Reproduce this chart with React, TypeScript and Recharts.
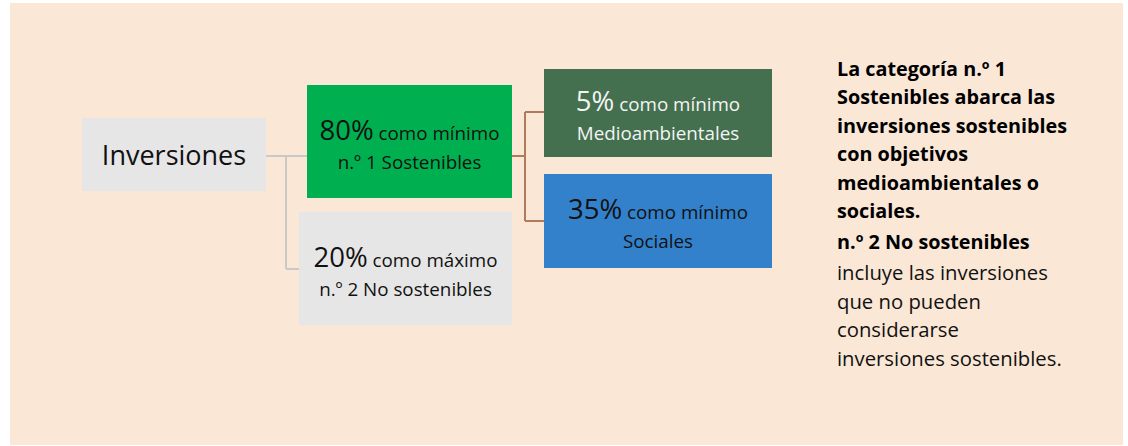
import React from 'react';
import { ComposedChart, XAxis, YAxis, ReferenceArea, ReferenceLine } from 'recharts';

// ---- data ----
const categories = ['Inversiones', 'n.º 1 Sostenibles', 'n.º 2 No sostenibles', 'Medioambientales', 'Sociales'];
const shares: (number | null)[] = [null, 80, 20, 5, 35];
const qualifiers = ['', 'como mínimo', 'como máximo', 'como mínimo', 'como mínimo'];
const noteBold = [
  'La categoría n.º 1',
  'Sostenibles abarca las',
  'inversiones sostenibles',
  'con objetivos',
  'medioambientales o',
  'sociales.',
  'n.º 2 No sostenibles',
];
const noteRegular = ['incluye las inversiones', 'que no pueden', 'considerarse', 'inversiones sostenibles.'];

// ---- layout (chart units == pixels) ----
const W = 1128;
const H = 446;
const boxes = [
  { x1: 82, x2: 266, y1: 118, y2: 191 },
  { x1: 307, x2: 512, y1: 85, y2: 198 },
  { x1: 299, x2: 512, y1: 212, y2: 325 },
  { x1: 544, x2: 772, y1: 69, y2: 157 },
  { x1: 544, x2: 772, y1: 174, y2: 268 },
];
const fills = ['#E7E6E6', '#00B050', '#E7E6E6', '#44704F', '#3381CB'];
const textColors = ['#111', '#111', '#111', '#F4F4F4', '#111'];
const grayLinks = [
  [[266, 156], [307, 156]],
  [[286, 156], [286, 269]],
  [[286, 269], [299, 269]],
];
const brownLinks = [
  [[512, 156], [525, 156]],
  [[525, 112], [525, 221]],
  [[525, 112], [544, 112]],
  [[525, 221], [544, 221]],
];
const FONT = '"Open Sans", Lato, sans-serif';

const makeShape = (i: number) => (props: any) => {
  const { x, y, width, height } = props;
  const cx = x + width / 2;
  const cy = y + height / 2;
  const color = textColors[i];
  if (shares[i] == null) {
    return (
      <g>
        <rect x={x} y={y} width={width} height={height} fill={fills[i]} />
        <text x={cx} y={cy + 10.5} textAnchor="middle" fontFamily={FONT} fontSize={27} fill={color}>
          {categories[i]}
        </text>
      </g>
    );
  }
  return (
    <g>
      <rect x={x} y={y} width={width} height={height} fill={fills[i]} />
      <text x={cx} y={cy - 2} textAnchor="middle" fontFamily={FONT} fill={color}>
        <tspan fontSize={27.5}>{`${shares[i]}%`}</tspan>
        <tspan fontSize={18.8}>{` ${qualifiers[i]}`}</tspan>
      </text>
      <text x={cx} y={cy + 27} textAnchor="middle" fontFamily={FONT} fontSize={18.8} fill={color}>
        {categories[i]}
      </text>
    </g>
  );
};

const noteShape = (props: any) => {
  const { x } = props;
  const tx = x;
  return (
    <g>
      {noteBold.map((t, k) => (
        <text key={'b' + k} x={tx} y={76 + k * 28.4 + (k === 6 ? 3 : 0)} fontFamily={FONT} fontSize={19.8} fontWeight={700} fill="#000">
          {t}
        </text>
      ))}
      {noteRegular.map((t, k) => (
        <text key={'r' + k} x={tx} y={280 + k * 28.5} fontFamily={FONT} fontSize={20.3} fill="#111">
          {t}
        </text>
      ))}
    </g>
  );
};

export default function App() {
  return (
    <div style={{ position: 'absolute', left: 0, top: 0 }}>
      <ComposedChart width={W} height={H} data={[]} margin={{ top: 0, right: 0, bottom: 0, left: 0 }}>
        <XAxis type="number" dataKey="x" domain={[0, W]} hide allowDataOverflow />
        <YAxis type="number" dataKey="y" domain={[0, H]} reversed hide allowDataOverflow width={0} />
        <ReferenceArea x1={10} x2={1123} y1={3} y2={445} fill="#FAE7D6" fillOpacity={1} stroke="none" ifOverflow="visible" />
        {grayLinks.map((s, k) => (
          <ReferenceLine
            key={'g' + k}
            segment={[{ x: s[0][0], y: s[0][1] }, { x: s[1][0], y: s[1][1] }]}
            stroke="#C9C9C9"
            strokeWidth={2}
            ifOverflow="visible"
          />
        ))}
        {brownLinks.map((s, k) => (
          <ReferenceLine
            key={'b' + k}
            segment={[{ x: s[0][0], y: s[0][1] }, { x: s[1][0], y: s[1][1] }]}
            stroke="#AF7B58"
            strokeWidth={2}
            ifOverflow="visible"
          />
        ))}
        {boxes.map((b, i) => (
          <ReferenceArea
            key={'box' + i}
            x1={b.x1}
            x2={b.x2}
            y1={b.y1}
            y2={b.y2}
            fill={fills[i]}
            fillOpacity={1}
            ifOverflow="visible"
            shape={makeShape(i)}
          />
        ))}
        <ReferenceArea x1={837} x2={1100} y1={55} y2={370} ifOverflow="visible" shape={noteShape} />
      </ComposedChart>
    </div>
  );
}
